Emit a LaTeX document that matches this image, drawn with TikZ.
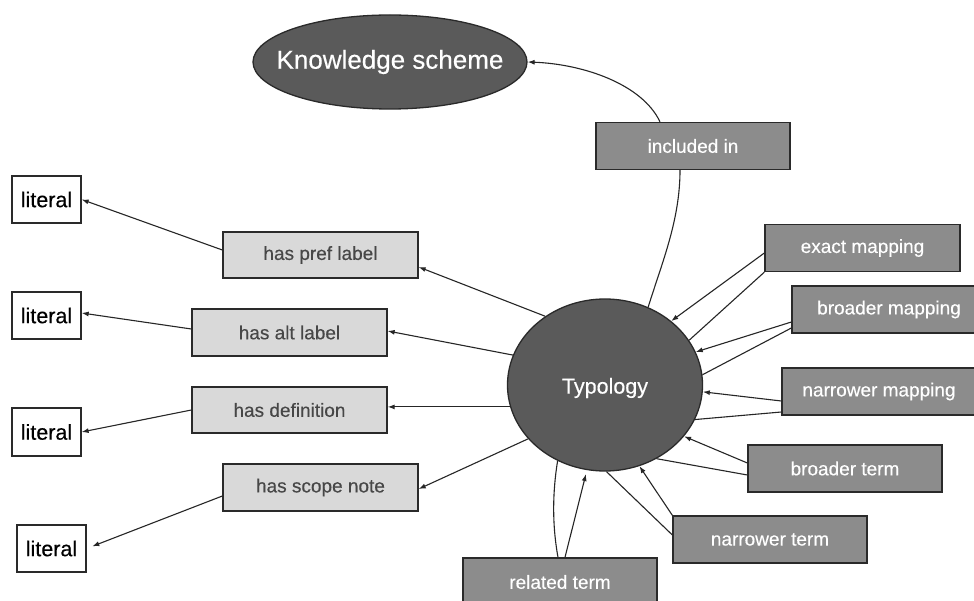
\documentclass[tikz,border=0pt]{standalone}
\usepackage{fontspec}
\setmainfont[FakeBold=0.35,AutoFakeBold=0.35]{Liberation Sans}
\usetikzlibrary{arrows.meta,shapes.geometric}
\definecolor{darkfill}{HTML}{5A5A5A}
\definecolor{midfill}{HTML}{8C8C8C}
\definecolor{lightfill}{HTML}{D9D9D9}
\definecolor{edgecol}{HTML}{2A2A2A}
\definecolor{lighttext}{HTML}{474747}
\begin{document}
\begin{tikzpicture}[x=1pt,y=-1pt,
  box/.style={rectangle,draw=edgecol,line width=1.3pt,minimum width=194pt,minimum height=47pt,inner sep=0pt,font=\fontsize{19}{22}\selectfont\bfseries},
  relbox/.style={box,fill=midfill,text=white},
  propbox/.style={box,fill=lightfill,text=lighttext},
  litbox/.style={rectangle,draw=edgecol,line width=1.3pt,fill=white,text=black,minimum width=69pt,minimum height=47pt,inner sep=0pt,font=\fontsize{21.5}{24}\selectfont\bfseries},
  bigell/.style={ellipse,draw=edgecol,line width=1.3pt,fill=darkfill,inner sep=0pt},
  conn/.style={draw=black!85,line width=1.1pt},
  arr/.style={conn,-{Latex[length=7pt,width=5pt]}},
]
\fill[white] (0,0) rectangle (974,601);
\clip (0,0) rectangle (974,601);

% main ellipses
\node[bigell,minimum width=274pt,minimum height=94pt] (ks) at (390,62) {};
\node[text=white,font=\fontsize{26}{30}\selectfont\bfseries] (kstext) at (ks) {Knowledge scheme};
\node[bigell,minimum width=195pt,minimum height=172pt] (typ) at (605,385) {};
\node[text=white,font=\fontsize{21.5}{24}\selectfont] (typtext) at (605,388) {Typology};

% relation boxes (right)
\node[relbox] (inc) at (693,146) {included in};
\node[relbox,minimum width=195pt] (exact) at (862.5,248) {exact mapping};
\node[relbox] (broadm) at (889,309.5) {broader mapping};
\node[relbox] (narrowm) at (879,391.5) {narrower mapping};
\node[relbox] (broadt) at (845,468.5) {broader term};
\node[relbox] (narrowt) at (770,539.5) {narrower term};
\node[relbox,minimum height=48pt] (related) at (560,582) {related term};

% property boxes (left)
\node[propbox,minimum width=195pt,minimum height=46pt] (prefl) at (320.5,255) {has pref label};
\node[propbox,minimum width=195pt] (altl) at (289.5,332.5) {has alt label};
\node[propbox,minimum width=195pt,minimum height=46pt] (defn) at (289.5,410) {has definition};
\node[propbox,minimum width=195pt] (scope) at (320.5,487.5) {has scope note};

% literals
\node[litbox] (lit1) at (46.5,199.5) {literal};
\node[litbox] (lit2) at (46.5,315.5) {literal};
\node[litbox,minimum height=48pt] (lit3) at (46.5,432) {literal};
\node[litbox] (lit4) at (51.5,548.5) {literal};

% left connectors
\draw[arr] (typ.131) -- ([yshift=-12pt]prefl.east);
\draw[arr] ([yshift=5pt]prefl.west) -- (lit1.east);
\draw[arr] (typ.162) -- ([yshift=1.5pt]altl.east);
\draw[arr] ([yshift=3.5pt]altl.west) -- ([yshift=2.5pt]lit2.east);
\draw[arr] (typ.193) -- (typ.193 -| defn.east);
\draw[arr] (defn.west) -- (lit3.east);
\draw[arr] (typ.-145) -- ([yshift=-1.5pt]scope.east);
\draw[arr,shorten >=6pt] ([yshift=-8.5pt]scope.west) -- (lit4.east);

% right connectors
\draw[arr] ([yshift=-5pt]exact.west) -- (typ.44);
\draw[conn] (exact.south west) -- (typ.28);
\draw[arr] ([yshift=-12.5pt]broadm.west) -- (typ.20);
\draw[conn] ([yshift=-18.5pt]broadm.west) -- (typ.6);
\draw[arr] ([yshift=-9.5pt]narrowm.west) -- (typ.-4);
\draw[conn] ([yshift=-20.5pt]narrowm.west) -- (typ.-21);
\draw[arr] ([yshift=5.5pt]broadt.west) -- (typ.-33);
\draw[conn] ([yshift=-6.5pt]broadt.west) -- (typ.-55);
\draw[arr] (narrowt.north west) -- (typ.-67);
\draw[conn] ([yshift=4.5pt]narrowt.west) -- (typ.-89);
\draw[arr,shorten >=4pt] ([xshift=5pt]related.north) -- (typ.-102);
\draw[conn] ([xshift=-2pt]related.north) .. controls +(-6,-33) and +(-5,31) .. (typ.-122);

% included in
\draw[conn] (typ.61) .. controls +(14,-45) and +(0,50) .. ([xshift=-13pt]inc.south);
\draw[arr] ([xshift=-33pt]inc.north) .. controls +(-18,-38) and +(55,2) .. (ks.east);
\end{tikzpicture}
\end{document}
